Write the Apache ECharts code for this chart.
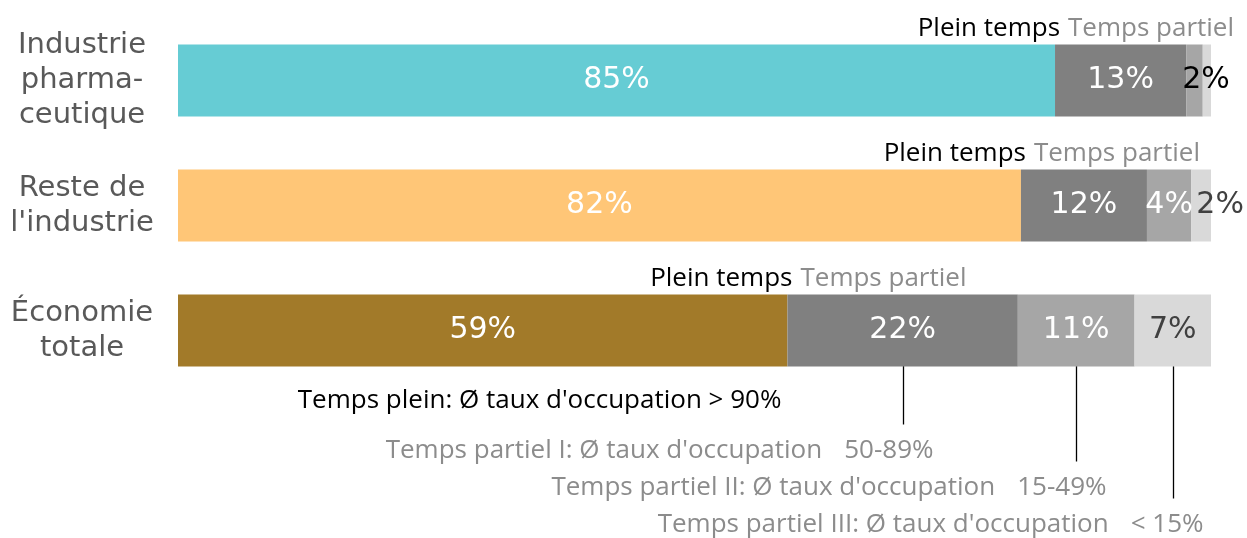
<!DOCTYPE html>
<html>
<head>
<meta charset="utf-8">
<script src="https://cdn.jsdelivr.net/npm/echarts@6/dist/echarts.min.js"></script>
<style>
  html, body { margin: 0; background: #fff; }
  #chart { width: 1247px; height: 538px; }
</style>
</head>
<body>
<div id="chart"></div>
<script>
// catégories (de haut en bas)
const categories = ['Industrie\npharma-\nceutique', "Reste de\nl'industrie", 'Économie\ntotale'];
// parts en %
const pleinTemps = [84.9, 81.6, 59.0];
const partielI = [12.7, 12.2, 22.3];
const partielII = [1.6, 4.3, 11.3];
const partielIII = [0.8, 1.9, 7.4];
// étiquettes affichées
const pleinLabels = ['85%', '82%', '59%'];
const partielILabels = ['13%', '12%', '22%'];
const partielIILabels = ['2%', '4%', '11%'];
const partielIIILabels = ['', '2%', '7%'];
const headerLabels = ['Plein temps', 'Temps partiel'];
const noteFull = "Temps plein: Ø taux d'occupation > 90%";
const notePartiel = [
  ["Temps partiel I: Ø taux d'occupation", '50-89%'],
  ["Temps partiel II: Ø taux d'occupation", '15-49%'],
  ["Temps partiel III: Ø taux d'occupation", '< 15%']
];

const barColors = ['#66CCD4', '#FFC677', '#A27A29'];
const GRAY_TXT = '#8C8C8C';
const LABEL_FONT = 'DejaVu Sans';
const NOTE_FONT = 'Open Sans';
const BAR_W = 72;

const chart = echarts.init(document.getElementById('chart'));

function pctLabel(labels, color) {
  return {
    show: true,
    position: 'inside',
    color: color,
    fontSize: 30,
    fontFamily: LABEL_FONT,
    formatter: p => labels[p.dataIndex]
  };
}

const option = {
  animation: false,
  backgroundColor: '#fff',
  grid: { left: 178, right: 36, top: 18, height: 375 },
  xAxis: { type: 'value', min: 0, max: 100, show: false },
  yAxis: {
    type: 'category',
    data: categories,
    inverse: true,
    axisLine: { show: false },
    axisTick: { show: false },
    axisLabel: {
      color: '#595959',
      fontSize: 29,
      lineHeight: 35,
      fontFamily: LABEL_FONT,
      align: 'center',
      margin: 96
    }
  },
  series: [
    {
      type: 'bar', stack: 'tot', barWidth: BAR_W,
      data: pleinTemps.map((v, i) => ({ value: v, itemStyle: { color: barColors[i] } })),
      label: pctLabel(pleinLabels, '#fff')
    },
    {
      type: 'bar', stack: 'tot', barWidth: BAR_W,
      itemStyle: { color: '#808080' },
      data: partielI,
      label: pctLabel(partielILabels, '#fff')
    },
    {
      type: 'bar', stack: 'tot', barWidth: BAR_W,
      itemStyle: { color: '#A6A6A6' },
      data: partielII.map((v, i) => i === 0
        ? { value: v, label: { color: '#000', position: [-4, '50%'], align: 'left', verticalAlign: 'middle' } }
        : v),
      label: pctLabel(partielIILabels, '#fff')
    },
    {
      type: 'bar', stack: 'tot', barWidth: BAR_W,
      itemStyle: { color: '#D9D9D9' },
      data: partielIII.map((v, i) => i === 1
        ? { value: v, label: { position: [5, '50%'], align: 'left', verticalAlign: 'middle' } }
        : v),
      label: pctLabel(partielIIILabels, '#404040')
    }
  ]
};
chart.setOption(option);

// textes et lignes de renvoi, placés via les échelles du graphique
const gfx = [];
const toX = v => chart.convertToPixel({ xAxisIndex: 0 }, v);
const toY = c => chart.convertToPixel({ yAxisIndex: 0 }, c);

categories.forEach((c, i) => {
  const bx = toX(pleinTemps[i]);
  const ty = toY(i) - BAR_W / 2 - 16;
  gfx.push({
    type: 'text', x: bx + 5, y: ty,
    style: { text: headerLabels[0], fill: '#000', fontSize: 26, fontFamily: NOTE_FONT, align: 'right', verticalAlign: 'middle' }
  });
  gfx.push({
    type: 'text', x: bx + 13, y: ty,
    style: { text: headerLabels[1], fill: GRAY_TXT, fontSize: 26, fontFamily: NOTE_FONT, align: 'left', verticalAlign: 'middle' }
  });
});

// notes sous la barre "Économie totale"
const last = categories.length - 1;
const cy = toY(last);
gfx.push({
  type: 'text', x: toX(pleinTemps[last]) - 6, y: cy + 70,
  style: { text: noteFull, fill: '#000', fontSize: 26, fontFamily: NOTE_FONT, align: 'right', verticalAlign: 'middle' }
});

const parts = [partielI, partielII, partielIII];
let cum = pleinTemps[last];
parts.forEach((arr, k) => {
  const v = arr[last];
  const lx = Math.round(toX(cum + v / 2)) + 0.5;
  cum += v;
  const rowY = cy + 120 + k * 37;
  gfx.push({
    type: 'line',
    shape: { x1: lx, y1: cy + 20, x2: lx, y2: rowY - 26 },
    style: { stroke: '#000', lineWidth: 1.3 }
  });
  gfx.push({
    type: 'text', x: lx + 30, y: rowY,
    style: {
      text: '{d|' + notePartiel[k][0] + '}{r|' + notePartiel[k][1] + '}',
      align: 'right', verticalAlign: 'middle',
      rich: {
        d: { fill: GRAY_TXT, fontSize: 26, fontFamily: NOTE_FONT },
        r: { fill: GRAY_TXT, fontSize: 26, fontFamily: NOTE_FONT, padding: [0, 0, 0, 22] }
      }
    }
  });
});

chart.setOption({ graphic: gfx });
</script>
</body>
</html>
